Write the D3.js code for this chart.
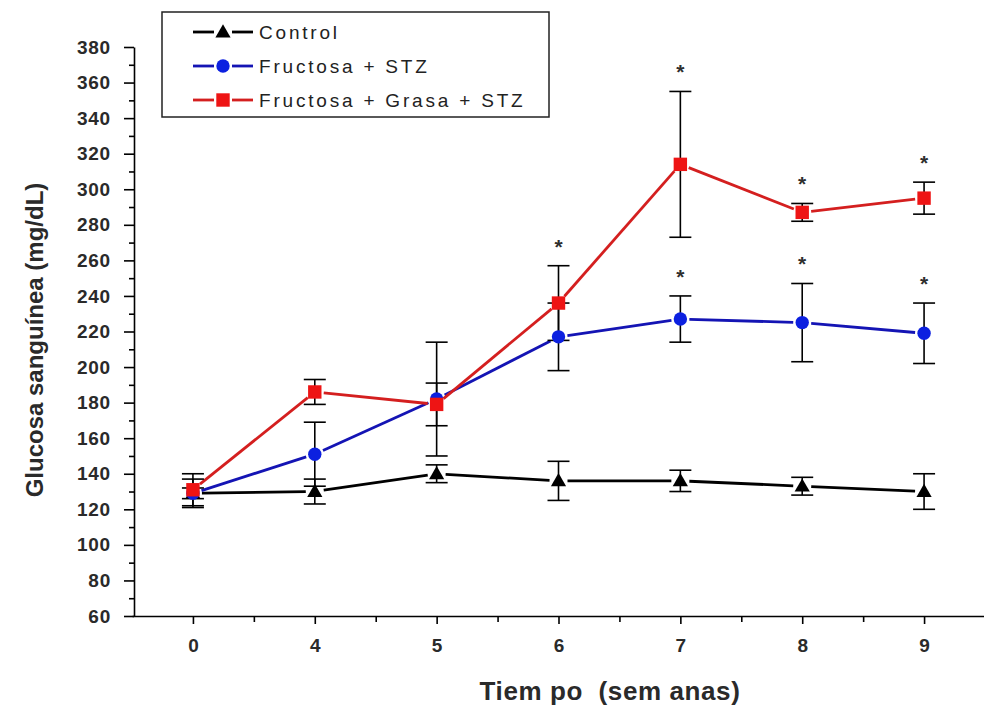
<!DOCTYPE html>
<html>
<head>
<meta charset="utf-8">
<script src="https://cdn.jsdelivr.net/npm/d3@7"></script>
<style>
  html, body { margin: 0; padding: 0; background: #fff; }
  svg { display: block; font-family: "Liberation Sans", Arial, sans-serif; }
</style>
</head>
<body>
<svg id="chart" width="984" height="709"></svg>
<script>
// Weeks of follow-up (categorical x axis)
const weeks = ["0", "4", "5", "6", "7", "8", "9"];

// Blood glucose means (mg/dL) and error bar half-widths
const control = [129, 130, 140, 136, 136, 133, 130];
const controlErr = [8, 7, 5, 11, 6, 5, 10];

const fructosaStz = [129, 151, 182, 217, 227, 225, 219];
const fructosaStzErr = [3, 18, 32, 19, 13, 22, 17];

const fructosaGrasaStz = [131, 186, 179, 236, 314, 287, 295];
const fructosaGrasaStzErr = [9, 7, 12, 21, 41, 5, 9];

// Significance markers (*) per week
const fructosaStzSig = [false, false, false, false, true, true, true];
const fructosaGrasaStzSig = [false, false, false, true, true, true, true];

// Axis ticks
const yMajorTicks = [60, 80, 100, 120, 140, 160, 180, 200, 220, 240, 260, 280, 300, 320, 340, 360, 380];
const yMinorTicks = [70, 90, 110, 130, 150, 170, 190, 210, 230, 250, 270, 290, 310, 330, 350, 370];
const xMinorTicks = [0.5, 1.5, 2.5, 3.5, 4.5, 5.5];

const legendLabels = ["Control", "Fructosa + STZ", "Fructosa + Grasa + STZ"];

const series = [
  { name: legendLabels[0], values: control, err: controlErr, sig: null, line: "#000000", fill: "#000000", shape: "triangle" },
  { name: legendLabels[1], values: fructosaStz, err: fructosaStzErr, sig: fructosaStzSig, line: "#1414b4", fill: "#0c20e0", shape: "circle" },
  { name: legendLabels[2], values: fructosaGrasaStz, err: fructosaGrasaStzErr, sig: fructosaGrasaStzSig, line: "#d41f1f", fill: "#ee1414", shape: "square" }
];

const svg = d3.select("#chart");
const plotLeft = 132, plotRight = 985, plotTop = 47, plotBottom = 616;

const x = d3.scalePoint().domain(weeks).range([plotLeft, plotRight]).padding(0.5);
const xIdx = d3.scaleLinear().domain([-0.5, weeks.length - 0.5]).range([plotLeft, plotRight]);
const y = d3.scaleLinear().domain([60, 380]).range([plotBottom, plotTop]);

const tickFont = "bold 19px 'Liberation Sans', Arial, sans-serif";

// Y axis: major and minor ticks
const yAxis = svg.append("g").attr("transform", `translate(${plotLeft + 2},0)`)
  .call(d3.axisLeft(y).tickValues(yMajorTicks).tickSize(10).tickSizeOuter(0).tickPadding(13));
yAxis.select(".domain").attr("stroke", "#000").attr("stroke-width", 1.6);
yAxis.selectAll(".tick line").attr("stroke", "#000").attr("stroke-width", 1.6);
yAxis.selectAll(".tick text").style("font", tickFont).style("letter-spacing", "0.8px").attr("fill", "#2a2a2a");

const yMinor = svg.append("g").attr("transform", `translate(${plotLeft + 2},0)`)
  .call(d3.axisLeft(y).tickValues(yMinorTicks).tickSize(5).tickSizeOuter(0).tickFormat(""));
yMinor.select(".domain").remove();
yMinor.selectAll(".tick line").attr("stroke", "#000").attr("stroke-width", 1.6);

// X axis: labelled ticks at each week, minor ticks between
const xAxis = svg.append("g").attr("transform", `translate(0,${plotBottom})`)
  .call(d3.axisBottom(x).tickSize(8).tickSizeOuter(0).tickPadding(15));
xAxis.select(".domain").attr("stroke", "#000").attr("stroke-width", 1.6);
xAxis.selectAll(".tick line").attr("stroke", "#000").attr("stroke-width", 1.6);
xAxis.selectAll(".tick text").style("font", tickFont).attr("fill", "#2a2a2a");

const xMinor = svg.append("g").attr("transform", `translate(0,${plotBottom})`)
  .call(d3.axisBottom(xIdx).tickValues(xMinorTicks).tickSize(6).tickSizeOuter(0).tickFormat(""));
xMinor.select(".domain").remove();
xMinor.selectAll(".tick line").attr("stroke", "#000").attr("stroke-width", 1.6);

// Axis titles
svg.append("text")
  .attr("x", 610).attr("y", 700)
  .attr("text-anchor", "middle")
  .attr("xml:space", "preserve")
  .style("font", "bold 26px 'Liberation Sans', Arial, sans-serif")
  .style("letter-spacing", "0.6px")
  .style("white-space", "pre")
  .attr("fill", "#2a2a2a")
  .text("Tiem po  (sem anas)");

svg.append("text")
  .attr("transform", "translate(43,340) rotate(-90)")
  .attr("text-anchor", "middle")
  .style("font", "bold 24px 'Liberation Sans', Arial, sans-serif")
  .attr("fill", "#2a2a2a")
  .text("Glucosa sanguínea (mg/dL)");

// Marker drawing helper
function drawMarker(g, shape, cx, cy, color) {
  if (shape === "triangle") {
    g.append("path")
      .attr("d", d3.symbol().type(d3.symbolTriangle).size(100)())
      .attr("transform", `translate(${cx},${cy + 1})`)
      .attr("fill", color);
  } else if (shape === "circle") {
    g.append("circle").attr("cx", cx).attr("cy", cy).attr("r", 6.7).attr("fill", color);
  } else {
    g.append("rect").attr("x", cx - 6.7).attr("y", cy - 6.7).attr("width", 13.4).attr("height", 13.4).attr("fill", color);
  }
}

const gap = 9;
const plot = svg.append("g");

// Connecting lines, trimmed short of each marker
series.forEach(s => {
  const pts = s.values.map((v, i) => [x(weeks[i]), y(v)]);
  for (let i = 0; i < pts.length - 1; i++) {
    const [x0, y0] = pts[i], [x1, y1] = pts[i + 1];
    const len = Math.hypot(x1 - x0, y1 - y0);
    const ux = (x1 - x0) / len, uy = (y1 - y0) / len;
    plot.append("line")
      .attr("x1", x0 + ux * gap).attr("y1", y0 + uy * gap)
      .attr("x2", x1 - ux * gap).attr("y2", y1 - uy * gap)
      .attr("stroke", s.line).attr("stroke-width", 2.8);
  }
});

// Error bars
const capHalf = 11;
series.forEach(s => {
  s.values.forEach((v, i) => {
    const cx = x(weeks[i]);
    const yHi = y(v + s.err[i]), yLo = y(v - s.err[i]);
    plot.append("line").attr("x1", cx).attr("x2", cx).attr("y1", yHi).attr("y2", yLo)
      .attr("stroke", "#000").attr("stroke-width", 1.6);
    [yHi, yLo].forEach(yy => {
      plot.append("line").attr("x1", cx - capHalf).attr("x2", cx + capHalf).attr("y1", yy).attr("y2", yy)
        .attr("stroke", "#000").attr("stroke-width", 1.6);
    });
  });
});

// Markers
series.forEach(s => {
  s.values.forEach((v, i) => drawMarker(plot, s.shape, x(weeks[i]), y(v), s.fill));
});

// Significance asterisks above the upper error cap
series.forEach(s => {
  if (!s.sig) return;
  s.values.forEach((v, i) => {
    if (!s.sig[i]) return;
    plot.append("text")
      .attr("x", x(weeks[i])).attr("y", y(v + s.err[i]) - 25 + 13)
      .attr("text-anchor", "middle")
      .style("font", "bold 21px 'Liberation Sans', Arial, sans-serif")
      .attr("fill", "#2e2e2e")
      .text("*");
  });
});

// Legend
const legend = svg.append("g");
legend.append("rect").attr("x", 162).attr("y", 12).attr("width", 387).attr("height", 105)
  .attr("fill", "#fff").attr("stroke", "#222").attr("stroke-width", 1.5);
const rowY = [32, 66, 100];
series.forEach((s, i) => {
  const ly = rowY[i];
  legend.append("line").attr("x1", 193).attr("x2", 214).attr("y1", ly).attr("y2", ly)
    .attr("stroke", s.line).attr("stroke-width", 2.8);
  legend.append("line").attr("x1", 232).attr("x2", 253).attr("y1", ly).attr("y2", ly)
    .attr("stroke", s.line).attr("stroke-width", 2.8);
  drawMarker(legend, s.shape, 223, ly, s.fill);
  legend.append("text").attr("x", 259).attr("y", ly + 7)
    .style("font", "19px 'Liberation Sans', Arial, sans-serif")
    .style("letter-spacing", "2.8px")
    .attr("fill", "#222")
    .text(s.name);
});
</script>
</body>
</html>
